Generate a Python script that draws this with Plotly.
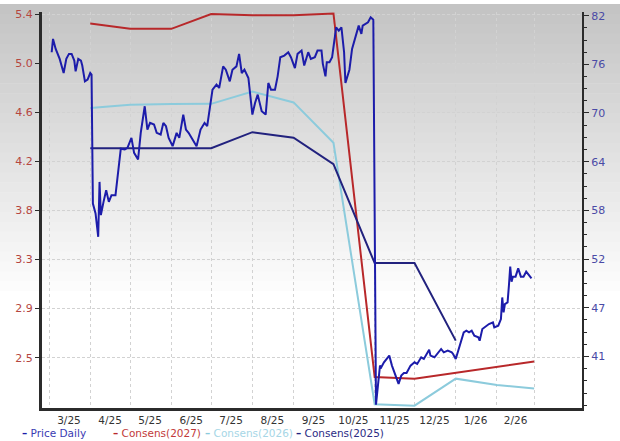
"""Price vs. consensus EPS estimates chart (dual axis)."""

import plotly.graph_objects as go

# Daily share price (right axis)
PRICE_DATES = [
    "2025-03-03", "2025-03-04", "2025-03-06", "2025-03-09", "2025-03-12", "2025-03-14",
    "2025-03-16", "2025-03-18", "2025-03-20", "2025-03-21", "2025-03-23", "2025-03-25",
    "2025-03-26", "2025-03-28", "2025-03-30", "2025-04-01", "2025-04-02", "2025-04-03",
    "2025-04-05", "2025-04-07", "2025-04-08", "2025-04-09", "2025-04-11", "2025-04-13",
    "2025-04-15", "2025-04-17", "2025-04-20", "2025-04-22", "2025-04-24", "2025-04-27",
    "2025-04-29", "2025-05-02", "2025-05-04", "2025-05-07", "2025-05-09", "2025-05-12",
    "2025-05-14", "2025-05-16", "2025-05-19", "2025-05-21", "2025-05-24", "2025-05-26",
    "2025-05-28", "2025-05-30", "2025-06-02", "2025-06-05", "2025-06-07", "2025-06-10",
    "2025-06-12", "2025-06-14", "2025-06-17", "2025-06-20", "2025-06-23", "2025-06-26",
    "2025-06-28", "2025-07-02", "2025-07-05", "2025-07-07", "2025-07-10", "2025-07-12",
    "2025-07-15", "2025-07-17", "2025-07-20", "2025-07-22", "2025-07-24", "2025-07-26",
    "2025-07-29", "2025-07-31", "2025-08-01", "2025-08-03", "2025-08-05", "2025-08-08",
    "2025-08-11", "2025-08-13", "2025-08-15", "2025-08-18", "2025-08-20", "2025-08-22",
    "2025-08-25", "2025-08-28", "2025-08-30", "2025-09-02", "2025-09-04", "2025-09-07",
    "2025-09-09", "2025-09-12", "2025-09-14", "2025-09-17", "2025-09-19", "2025-09-22",
    "2025-09-23", "2025-09-25", "2025-09-26", "2025-09-28", "2025-09-30", "2025-10-03",
    "2025-10-05", "2025-10-07", "2025-10-09", "2025-10-10", "2025-10-13", "2025-10-15",
    "2025-10-18", "2025-10-20", "2025-10-22", "2025-10-23", "2025-10-27", "2025-10-29",
    "2025-10-31", "2025-11-02", "2025-11-05", "2025-11-06", "2025-11-08", "2025-11-10",
    "2025-11-12", "2025-11-14", "2025-11-16", "2025-11-17", "2025-11-19", "2025-11-21",
    "2025-11-23", "2025-11-25", "2025-11-28", "2025-12-01", "2025-12-03", "2025-12-06",
    "2025-12-08", "2025-12-12", "2025-12-13", "2025-12-16", "2025-12-18", "2025-12-21",
    "2025-12-23", "2025-12-26", "2025-12-29", "2025-12-30", "2026-01-01", "2026-01-03",
    "2026-01-05", "2026-01-07", "2026-01-09", "2026-01-11", "2026-01-13", "2026-01-15",
    "2026-01-18", "2026-01-19", "2026-01-21", "2026-01-24", "2026-01-26", "2026-01-29",
    "2026-01-30", "2026-02-02", "2026-02-04", "2026-02-05", "2026-02-06", "2026-02-07",
    "2026-02-09", "2026-02-10", "2026-02-11", "2026-02-12", "2026-02-13", "2026-02-15",
    "2026-02-17", "2026-02-19", "2026-02-21", "2026-02-23", "2026-02-24", "2026-02-26",
    "2026-02-27",
]
PRICE_VALUES = [
    77.6, 79.2, 78.0, 76.8, 75.1, 76.8,
    77.4, 77.4, 76.6, 75.3, 76.8, 76.6,
    76.0, 74.1, 74.3, 75.1, 74.9, 59.4,
    58.2, 55.4, 62.0, 58.0, 59.6, 61.0,
    59.6, 60.4, 60.4, 63.1, 66.0, 65.9,
    66.1, 67.3, 65.5, 64.7, 67.9, 71.1,
    68.3, 69.1, 68.9, 67.9, 67.7, 69.1,
    68.7, 67.3, 66.3, 67.9, 67.3, 70.1,
    68.3, 67.9, 67.1, 66.3, 68.3, 69.1,
    68.7, 73.1, 73.7, 73.3, 75.9, 75.5,
    74.1, 75.5, 75.9, 77.4, 75.1, 75.5,
    74.5, 71.9, 70.1, 71.5, 72.5, 70.5,
    70.1, 73.9, 73.1, 73.1, 74.7, 77.0,
    77.2, 77.6, 77.0, 75.7, 77.4, 77.8,
    76.0, 77.6, 76.8, 77.0, 77.8, 77.8,
    76.2, 74.7, 76.4, 76.4, 77.0, 80.6,
    80.2, 80.6, 77.6, 73.9, 75.5, 78.0,
    79.6, 80.8, 79.8, 80.8, 81.2, 81.8,
    81.5, 35.2, 39.9, 39.7, 40.3, 40.7,
    41.1, 39.9, 39.1, 38.5, 37.7, 38.7,
    39.0, 39.0, 39.9, 40.3, 40.1, 40.9,
    40.7, 41.8, 41.1, 40.9, 41.3, 41.9,
    41.5, 41.7, 41.5, 41.3, 40.7, 41.7,
    42.7, 43.9, 44.1, 43.9, 44.1, 43.5,
    43.3, 42.9, 44.3, 44.7, 44.9, 45.1,
    44.5, 44.7, 45.5, 48.1, 46.3, 47.3,
    47.5, 49.5, 51.8, 50.0, 50.6, 50.6,
    51.6, 50.6, 50.6, 51.2, 51.0, 50.6,
    50.4,
]

# Monthly consensus EPS estimates (left axis)
CONS_DATES = [
    "2025-04-01", "2025-05-01", "2025-06-01", "2025-07-01", "2025-08-01", "2025-09-01",
    "2025-10-01", "2025-11-01", "2025-12-01", "2026-01-01", "2026-02-01", "2026-03-01",
]
CONS_2027 = [5.32, 5.275, 5.275, 5.40, 5.39, 5.39, 5.405, 2.337, 2.323, 2.373, 2.422, 2.468]
CONS_2026 = [4.607, 4.634, 4.640, 4.642, 4.746, 4.654, 4.314, 2.107, 2.095, 2.323, 2.27, 2.24]
CONS_2025 = [4.267, 4.267, 4.267, 4.267, 4.403, 4.356, 4.133, 3.298, 3.298, 2.644, None, None]

# Axis ticks
LEFT_TICKS = [2.5, 2.914, 3.329, 3.743, 4.157, 4.571, 4.986, 5.4]
LEFT_LABELS = ["2.5", "2.9", "3.3", "3.8", "4.2", "4.6", "5.0", "5.4"]
RIGHT_TICKS = [41, 46.86, 52.71, 58.57, 64.43, 70.29, 76.14, 82]
RIGHT_LABELS = ["41", "47", "52", "58", "64", "70", "76", "82"]
MONTH_STARTS = [
    "2025-03-01", "2025-04-01", "2025-05-01", "2025-06-01", "2025-07-01", "2025-08-01",
    "2025-09-01", "2025-10-01", "2025-11-01", "2025-12-01", "2026-01-01", "2026-02-01",
    "2026-03-01",
]
MONTH_LABEL_DATES = [
    "2025-03-16", "2025-04-16", "2025-05-16", "2025-06-16", "2025-07-16", "2025-08-16",
    "2025-09-16", "2025-10-16", "2025-11-16", "2025-12-16", "2026-01-16", "2026-02-15",
]
MONTH_LABELS = ["3/25", "4/25", "5/25", "6/25", "7/25", "8/25", "9/25", "10/25",
                "11/25", "12/25", "1/26", "2/26"]

COLORS = {
    "price": "#1c1caa",
    "c2027": "#b8282a",
    "c2026": "#8ccbdc",
    "c2025": "#22227e",
}
FONT = "DejaVu Sans, Verdana, sans-serif"

# Geometry of the 620x441 canvas
W, H = 620, 441
M_L, M_R, M_T, M_B = 42, 38, 8, 33
PLOT_W = W - M_L - M_R
PLOT_H = H - M_T - M_B


def px_to_paper_x(px):
    return (px - M_L) / PLOT_W


def px_to_paper_y(py):
    return (H - M_B - py) / PLOT_H


fig = go.Figure()

fig.add_trace(go.Scatter(
    x=PRICE_DATES, y=PRICE_VALUES, name="Price Daily", mode="lines",
    line=dict(color=COLORS["price"], width=2), yaxis="y2",
))
fig.add_trace(go.Scatter(
    x=CONS_DATES, y=CONS_2027, name="Consens(2027)", mode="lines",
    line=dict(color=COLORS["c2027"], width=2),
))
fig.add_trace(go.Scatter(
    x=CONS_DATES, y=CONS_2026, name="Consens(2026)", mode="lines",
    line=dict(color=COLORS["c2026"], width=2),
))
fig.add_trace(go.Scatter(
    x=CONS_DATES, y=CONS_2025, name="Consens(2025)", mode="lines",
    line=dict(color=COLORS["c2025"], width=2),
))

# Grey-to-white vertical gradient behind everything
shapes = []
n_bands = 30
band_h = 300 / n_bands
for i in range(n_bands):
    shade = int(196 + (255 - 196) * i / (n_bands - 1))
    shapes.append(dict(
        type="rect", xref="paper", yref="paper", layer="below",
        x0=px_to_paper_x(0), x1=px_to_paper_x(W),
        y0=px_to_paper_y(i * band_h + band_h + 0.5), y1=px_to_paper_y(i * band_h),
        fillcolor=f"rgb({shade},{shade},{shade})", line=dict(width=0),
    ))

# Minor ticks on the right axis (4 subdivisions per interval)
right_minor = []
for a, b in zip(RIGHT_TICKS[:-1], RIGHT_TICKS[1:]):
    step = (b - a) / 4
    right_minor += [a + step, a + 2 * step, a + 3 * step]
right_minor += [RIGHT_TICKS[0] - (RIGHT_TICKS[1] - RIGHT_TICKS[0]) / 4 * k for k in (1, 2, 3, 4)]

# Legend as coloured text entries
legend_items = [
    ("Price Daily", 20, "#3a3ab2", COLORS["price"]),
    ("Consens(2027)", 111, "#c23a3a", COLORS["c2027"]),
    ("Consens(2026)", 203, "#a6d6e6", COLORS["c2026"]),
    ("Consens(2025)", 294, "#2c2c84", COLORS["c2025"]),
]
annotations = []
for label, x_px, text_color, mark_color in legend_items:
    annotations.append(dict(
        text=f"<span style='color:{mark_color}'><b>–</b></span> {label}",
        xref="paper", yref="paper", x=px_to_paper_x(x_px), y=px_to_paper_y(433),
        xanchor="left", yanchor="middle", showarrow=False,
        font=dict(family=FONT, size=10.5, color=text_color),
    ))

fig.update_layout(
    width=W,
    height=H,
    margin=dict(l=M_L, r=M_R, t=M_T, b=M_B),
    paper_bgcolor="white",
    plot_bgcolor="rgba(0,0,0,0)",
    showlegend=False,
    shapes=shapes,
    annotations=annotations,
    font=dict(family=FONT, size=11, color="#333333"),
    xaxis=dict(
        type="date",
        range=["2025-02-23 17:00", "2026-04-06"],
        tickmode="array",
        tickvals=MONTH_LABEL_DATES,
        ticktext=MONTH_LABELS,
        ticks="",
        showgrid=False,
        tickfont=dict(size=10.5, color="#333333"),
        showline=True,
        linecolor="#2b2b2b",
        linewidth=3,
        zeroline=False,
        minor=dict(
            tickmode="array",
            tickvals=MONTH_STARTS,
            showgrid=True,
            gridcolor="#d2d2d2",
            griddash="dot",
            gridwidth=1,
        ),
    ),
    yaxis=dict(
        range=[2.0755, 5.417],
        tickmode="array",
        tickvals=LEFT_TICKS,
        ticktext=LEFT_LABELS,
        ticks="outside",
        ticklen=4,
        tickcolor="#2b2b2b",
        tickfont=dict(size=11, color="#b5463f"),
        showline=True,
        linecolor="#2b2b2b",
        linewidth=3,
        showgrid=True,
        gridcolor="#d2d2d2",
        griddash="3px,2px",
        gridwidth=1,
        zeroline=False,
    ),
    yaxis2=dict(
        range=[34.8, 82.44],
        overlaying="y",
        side="right",
        tickmode="array",
        tickvals=RIGHT_TICKS,
        ticktext=RIGHT_LABELS,
        ticks="outside",
        ticklen=5,
        tickcolor="#2b2b2b",
        tickfont=dict(size=11, color="#4a4aa6"),
        showline=True,
        linecolor="#2b2b2b",
        linewidth=2,
        showgrid=False,
        zeroline=False,
        minor=dict(
            tickmode="array",
            tickvals=right_minor,
            ticks="outside",
            ticklen=3,
            tickcolor="#2b2b2b",
            showgrid=False,
        ),
    ),
)

# Drop the default page margin so the 620x441 figure fills the window exactly
fig.write_html(
    "out.html",
    config={"displayModeBar": False},
    post_script="document.body.style.margin = '0';",
)
